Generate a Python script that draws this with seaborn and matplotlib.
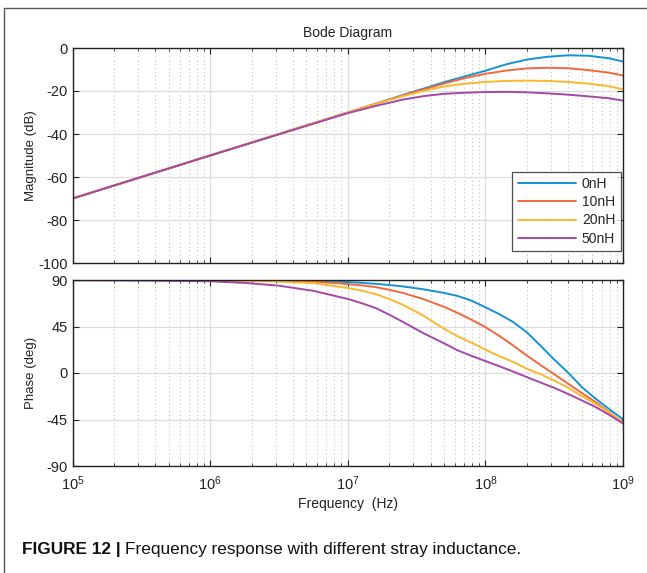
import numpy as np
import pandas as pd
import matplotlib
matplotlib.use("Agg")
import matplotlib.pyplot as plt
import matplotlib.ticker as mticker
from matplotlib.lines import Line2D
import seaborn as sns

# ---------------- data ----------------
series = ["0nH", "10nH", "20nH", "50nH"]
colors = ["#1592d2", "#f0693e", "#fbb72e", "#a548a8"]

# magnitude (dB), frequencies given as decade exponents
mag_exp = [5, 6, 7, 7.2, 7.4, 7.55, 7.7, 7.85, 8.0, 8.15, 8.3, 8.45, 8.6, 8.75, 8.9, 9.0]
mag_0nH = [-70, -50, -30, -26.0, -21.9, -18.9, -15.9, -13.2, -10.6, -7.6,
           -5.4, -4.1, -3.4, -3.6, -4.8, -6.3]
mag_10nH = [-70, -50, -30, -26.0, -22.1, -19.3, -16.5, -14.0, -12.0, -10.5,
            -9.5, -9.2, -9.4, -10.3, -11.5, -12.8]
mag_20nH = [-70, -50, -30, -26.1, -22.4, -20.0, -17.9, -16.6, -15.8, -15.3,
            -15.2, -15.3, -15.8, -16.6, -17.8, -19.2]
mag_50nH = [-70, -50, -30.3, -27.0, -24.0, -22.4, -21.3, -20.8, -20.5, -20.4,
            -20.6, -21.1, -21.7, -22.5, -23.4, -24.5]

# phase (deg)
ph_exp = [5, 5.5, 6, 6.25, 6.5, 6.75, 7.0, 7.1, 7.2, 7.3, 7.4, 7.55, 7.7, 7.8,
          7.9, 8.0, 8.1, 8.2, 8.3, 8.4, 8.5, 8.6, 8.7, 8.8, 8.9, 9.0]
ph_0nH = [90, 90, 89.9, 89.8, 89.7, 89.4, 88.0, 87.3, 86.3, 85.2, 83.8, 81.0,
          77.5, 74.5, 70.0, 63.6, 57.0, 49.5, 39.5, 26.5, 13.0, 0.5, -13.5,
          -24.8, -35.0, -44.7]
ph_10nH = [90, 90, 89.8, 89.6, 89.3, 88.6, 86.1, 84.8, 83.2, 80.6, 77.5, 71.5,
           64.0, 58.0, 51.5, 44.4, 36.0, 26.8, 17.0, 7.8, -1.2, -10.2, -19.3,
           -28.0, -38.0, -47.9]
ph_20nH = [90, 89.9, 89.6, 89.1, 88.4, 87.0, 82.3, 79.7, 76.5, 71.7, 66.0, 55.5,
           42.8, 35.5, 29.3, 22.5, 16.4, 10.8, 4.2, -1.2, -7.2, -14.2, -22.3,
           -29.6, -38.5, -48.2]
ph_50nH = [89.8, 89.5, 88.8, 87.2, 84.5, 79.5, 71.7, 67.6, 63.0, 56.6, 49.5, 38.5,
           28.7, 21.8, 16.5, 11.6, 6.6, 1.5, -3.9, -9.2, -14.3, -20.2, -26.5,
           -32.8, -40.5, -48.9]

mag_y_ticks = [-100, -80, -60, -40, -20, 0]
ph_y_ticks = [-90, -45, 0, 45, 90]
x_ticks = [1e5, 1e6, 1e7, 1e8, 1e9]

# ---------------- tables ----------------
mag_freq = [10.0 ** e for e in mag_exp]
ph_freq = [10.0 ** e for e in ph_exp]
mag_vals = [mag_0nH, mag_10nH, mag_20nH, mag_50nH]
ph_vals = [ph_0nH, ph_10nH, ph_20nH, ph_50nH]
df_mag = pd.concat([pd.DataFrame({"freq": mag_freq, "val": v, "series": s})
                    for s, v in zip(series, mag_vals)], ignore_index=True)
df_ph = pd.concat([pd.DataFrame({"freq": ph_freq, "val": v, "series": s})
                   for s, v in zip(series, ph_vals)], ignore_index=True)

# ---------------- style ----------------
sns.set_style("white")
plt.rcParams["font.family"] = ["Liberation Sans", "DejaVu Sans"]
plt.rcParams["mathtext.fontset"] = "custom"
plt.rcParams["mathtext.rm"] = "Liberation Sans"
plt.rcParams["mathtext.it"] = "Liberation Sans:italic"
plt.rcParams["mathtext.default"] = "regular"
plt.rcParams["axes.unicode_minus"] = False

W, H = 647, 573
fig = plt.figure(figsize=(W / 100, H / 100), dpi=100)

def fx(px):
    return px / W

def fy(py):
    return 1 - py / H

ax_l, ax_r = 72.5, 623
ax1 = fig.add_axes([fx(ax_l), fy(263), fx(ax_r - ax_l), (263 - 48) / H])
ax2 = fig.add_axes([fx(ax_l), fy(466), fx(ax_r - ax_l), (466 - 280) / H])

palette = dict(zip(series, colors))
sns.lineplot(data=df_mag, x="freq", y="val", hue="series", hue_order=series,
             palette=palette, ax=ax1, linewidth=1.4, estimator=None, sort=False)
sns.lineplot(data=df_ph, x="freq", y="val", hue="series", hue_order=series,
             palette=palette, ax=ax2, linewidth=1.4, estimator=None, sort=False,
             legend=False)

for ax, yt in [(ax1, mag_y_ticks), (ax2, ph_y_ticks)]:
    ax.set_xscale("log")
    ax.set_xlim(1e5, 1e9)
    ax.set_ylim(min(yt), max(yt))
    ax.set_yticks(yt)
    ax.set_xticks(x_ticks)
    ax.xaxis.set_minor_locator(mticker.LogLocator(base=10, subs=np.arange(2, 10), numticks=50))
    ax.xaxis.set_minor_formatter(mticker.NullFormatter())
    ax.grid(True, which="major", color="#dcdcdc", linewidth=0.9, linestyle="-")
    ax.grid(True, which="minor", axis="x", color="#b8b8b8", linewidth=0.7,
            linestyle=(0, (1, 3)))
    ax.set_axisbelow(True)
    ax.tick_params(which="both", direction="in", top=True, right=True,
                   bottom=True, left=True, colors="#222222", labelcolor="#222222",
                   labelsize=10.5)
    ax.tick_params(which="major", length=4, width=0.8)
    ax.tick_params(which="minor", length=2.5, width=0.6)
    for sp in ax.spines.values():
        sp.set_color("#222222")
        sp.set_linewidth(1.0)
    ax.set_facecolor("white")

ax1.set_xticklabels([])
ax1.set_xlabel("")
ax2.xaxis.set_major_formatter(mticker.LogFormatterMathtext())
ax2.tick_params(axis="x", pad=6, labelsize=10.5)
ax1.set_ylabel("Magnitude (dB)", fontsize=9.5, color="#222222")
ax2.set_ylabel("Phase (deg)", fontsize=9.5, color="#222222")
ax1.yaxis.set_label_coords(-0.064, 0.5)
ax2.yaxis.set_label_coords(-0.064, 0.5)
ax2.set_xlabel("Frequency  (Hz)", fontsize=10, color="#222222", labelpad=3)
ax1.set_title("Bode Diagram", fontsize=10, color="#222222", pad=8)

leg = ax1.legend(loc="lower right", bbox_to_anchor=(0.996, 0.055),
                 borderaxespad=0, frameon=True, fancybox=False, fontsize=10,
                 handlelength=4.2, handletextpad=0.4, labelspacing=0.3,
                 borderpad=0.4, title=None)
leg.get_frame().set_edgecolor("#222222")
leg.get_frame().set_linewidth(0.9)
for h in leg.get_lines():
    h.set_linewidth(1.4)

# page frame (top and left rules)
fig.add_artist(Line2D([fx(4), 1], [fy(8), fy(8)], color="#555555", linewidth=1.0))
fig.add_artist(Line2D([fx(4), fx(4)], [0, fy(8)], color="#555555", linewidth=1.0))

# caption
t1 = fig.text(fx(22), fy(554), "FIGURE 12 |", fontsize=12.4, fontweight="bold",
              color="#111111", va="baseline", ha="left")
fig.canvas.draw()
bb = t1.get_window_extent(renderer=fig.canvas.get_renderer())
fig.text(bb.x1 / W + fx(4), fy(554),
         "Frequency response with different stray inductance.",
         fontsize=12.4, color="#111111", va="baseline", ha="left")

fig.savefig("out.png", dpi=100)
